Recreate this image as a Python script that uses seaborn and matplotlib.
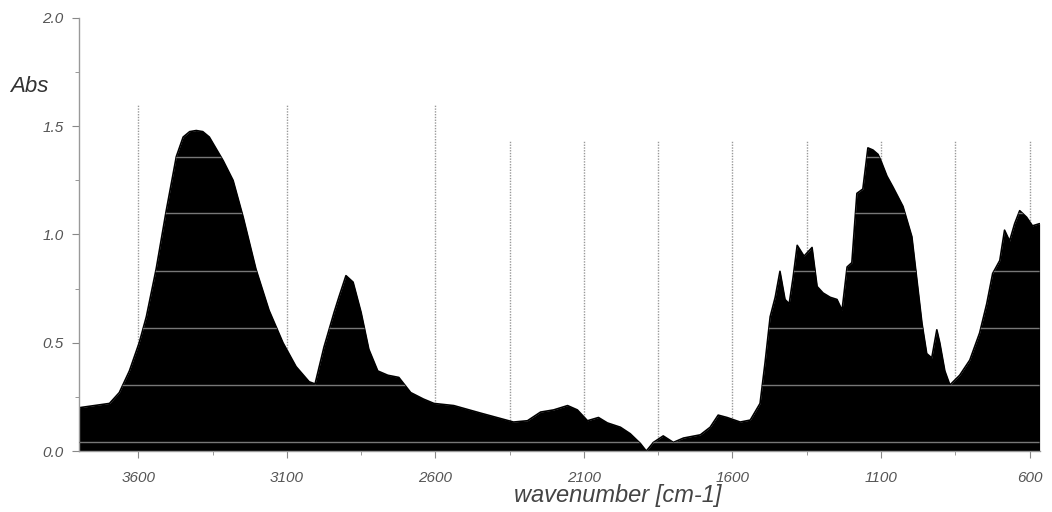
import matplotlib
matplotlib.use('Agg')
import matplotlib.pyplot as plt
import numpy as np
import pandas as pd
import seaborn as sns

# IR spectrum
wavenumber = [3800, 3697, 3664, 3630, 3597, 3573, 3540, 3506, 3472, 3449,
              3427, 3405, 3383, 3361, 3314, 3281, 3247, 3204, 3160, 3113,
              3069, 3025, 3005, 2975, 2941, 2925, 2901, 2877, 2850, 2824,
              2794, 2760, 2723, 2683, 2640, 2605, 2538, 2447, 2337, 2290,
              2246, 2202, 2155, 2122, 2088, 2051, 2021, 1977, 1944, 1910,
              1890, 1866, 1833, 1799, 1765, 1708, 1675, 1648, 1618, 1574,
              1540, 1507, 1490, 1473, 1456, 1440, 1423, 1409, 1396, 1382,
              1359, 1332, 1315, 1295, 1271, 1248, 1231, 1214, 1198, 1181,
              1161, 1144, 1127, 1110, 1100, 1080, 1060, 1026, 996, 979,
              962, 946, 929, 912, 902, 885, 868, 835, 801, 768,
              744, 724, 700, 684, 667, 650, 633, 610, 590, 566]
absorbance = [0.20, 0.22, 0.27, 0.37, 0.50, 0.62, 0.84, 1.11, 1.36, 1.45,
              1.475, 1.48, 1.475, 1.45, 1.34, 1.25, 1.08, 0.84, 0.65, 0.50,
              0.39, 0.32, 0.31, 0.48, 0.64, 0.71, 0.81, 0.78, 0.64, 0.47,
              0.37, 0.35, 0.34, 0.27, 0.24, 0.22, 0.21, 0.175, 0.134, 0.14,
              0.18, 0.19, 0.21, 0.19, 0.14, 0.155, 0.13, 0.11, 0.08, 0.035,
              0.0, 0.04, 0.07, 0.04, 0.06, 0.075, 0.11, 0.166, 0.155, 0.134,
              0.143, 0.22, 0.41, 0.62, 0.71, 0.83, 0.70, 0.68, 0.80, 0.95,
              0.90, 0.94, 0.76, 0.73, 0.71, 0.70, 0.65, 0.85, 0.87, 1.19,
              1.21, 1.40, 1.39, 1.37, 1.34, 1.27, 1.22, 1.13, 0.99, 0.79,
              0.59, 0.45, 0.43, 0.56, 0.50, 0.37, 0.305, 0.35, 0.42, 0.545,
              0.68, 0.82, 0.88, 1.02, 0.97, 1.05, 1.11, 1.08, 1.04, 1.05]

x_ticks = [3600, 3100, 2600, 2100, 1600, 1100, 600]
y_ticks = [0.0, 0.5, 1.0, 1.5, 2.0]
vlines_tall = [3600, 3100, 2600]
vlines_short = [2350, 2100, 1850, 1600, 1350, 1100, 850, 600]
scan_lines = [0.04, 0.305, 0.568, 0.83, 1.10, 1.36]

df = pd.DataFrame({'wavenumber': wavenumber, 'Abs': absorbance})

sns.set_style('white')
plt.rcParams['font.family'] = ['Liberation Sans', 'DejaVu Sans']

fig = plt.figure(figsize=(10.52, 5.12), dpi=100)
ax = fig.add_axes([0.075, 0.119, 0.9135, 0.846])

for w in vlines_tall:
    ax.plot([w, w], [0, 1.6], color='#999999', lw=1, ls=(0, (1, 1)), zorder=0)
for w in vlines_short:
    ax.plot([w, w], [0, 1.43], color='#999999', lw=1, ls=(0, (1, 1)), zorder=0)

sns.lineplot(data=df, x='wavenumber', y='Abs', color='black', lw=1.2,
             sort=False, ax=ax, zorder=2)
poly = ax.fill_between(df['wavenumber'], 0, df['Abs'], color='black', lw=0, zorder=2)

# faint light lines that only show through the black area
clip = poly.get_paths()[0]
for a in scan_lines:
    ln, = ax.plot([3800, 560], [a, a], color='#777777', lw=1, zorder=3)
    ln.set_clip_path(clip, ax.transData)

ax.set_xlim(3800, 565)
ax.set_ylim(0, 2.0)
ax.set_xticks(x_ticks)
ax.set_xticks([3350, 2850, 2350, 1850, 1350, 850], minor=True)
ax.set_yticks(y_ticks)
ax.set_yticks([0.25, 0.75, 1.25, 1.75], minor=True)
ax.set_xticklabels([str(t) for t in x_ticks], fontstyle='italic', color='#555555', fontsize=11)
ax.set_yticklabels([f'{t:.1f}' for t in y_ticks], fontstyle='italic', color='#555555', fontsize=11)
ax.tick_params(axis='both', which='major', length=5, color='#888888', direction='out', pad=6)
ax.tick_params(axis='both', which='minor', length=3, color='#888888', direction='out')
ax.tick_params(axis='x', which='major', pad=9)
ax.tick_params(left=True, bottom=True, which='both')

for s in ['top', 'right']:
    ax.spines[s].set_visible(False)
for s in ['left', 'bottom']:
    ax.spines[s].set_color('#999999')
    ax.spines[s].set_linewidth(1)

ax.set_xlabel('')
ax.set_ylabel('')
fig.text(0.587, 0.033, 'wavenumber [cm-1]', ha='center', va='center',
         fontstyle='italic', fontsize=17, color='#444444')
fig.text(0.01, 0.832, 'Abs', ha='left', va='center',
         fontstyle='italic', fontsize=16, color='#333333')

fig.savefig('out.png', dpi=100)
